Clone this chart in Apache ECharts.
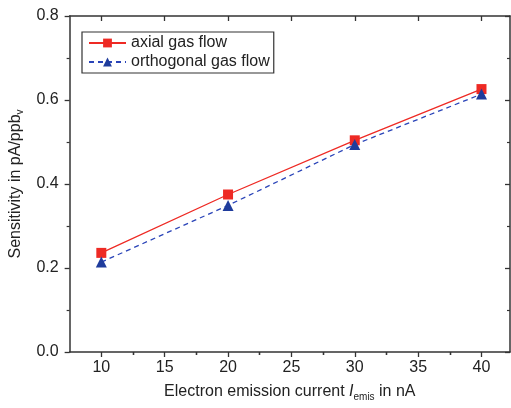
<!DOCTYPE html>
<html><head><meta charset="utf-8">
<script src="https://cdn.jsdelivr.net/npm/echarts@6/dist/echarts.min.js"></script>
<style>html,body{margin:0;padding:0;background:#fff}#c{width:511px;height:408px}</style>
</head><body><div id="c"></div>
<script>
const currents = [10, 20, 30, 40];
const axialFlow = [0.236, 0.375, 0.504, 0.626];
const orthogonalFlow = [0.214, 0.349, 0.494, 0.614];
const xMajorTicks = [10, 15, 20, 25, 30, 35, 40];
const xMinorTicks = [12.5, 17.5, 22.5, 27.5, 32.5, 37.5];
const seriesNames = ['axial gas flow', 'orthogonal gas flow'];

const font = 'Liberation Sans, Arial, sans-serif';
const axisCol = '#333';
const txtCol = '#222';
const chart = echarts.init(document.getElementById('c'));

function xAx(pos, ticks, len, inside, opts) {
  return Object.assign({
    type: 'value', position: pos, min: 7.5, max: 42.25,
    axisLine: { show: true, onZero: false, lineStyle: { color: axisCol, width: 1.5 } },
    axisTick: { show: true, inside: inside, length: len, customValues: ticks, lineStyle: { color: axisCol, width: 1.3 } },
    axisLabel: { show: false },
    splitLine: { show: false }
  }, opts || {});
}
function yAx(pos, inside, showLabel) {
  return {
    type: 'value', position: pos, min: 0, max: 0.8, interval: 0.2,
    axisLine: { show: true, onZero: false, lineStyle: { color: axisCol, width: 1.5 } },
    axisTick: { show: true, inside: inside, length: 5, lineStyle: { color: axisCol, width: 1.3 } },
    minorTick: { show: true, splitNumber: 2, length: 3, lineStyle: { color: axisCol, width: 1.2 } },
    minorSplitLine: { show: false },
    axisLabel: showLabel ? { show: true, color: txtCol, fontSize: 16, fontFamily: font, margin: 11, formatter: v => v.toFixed(1) } : { show: false },
    splitLine: { show: false }
  };
}

const yLeft = yAx('left', false, true);
yLeft.name = '{n|Sensitivity in pA/ppb}{s|v}';
yLeft.nameLocation = 'middle';
yLeft.nameGap = 40;
yLeft.nameTextStyle = { rich: {
  n: { fontSize: 16, fontFamily: font, color: txtCol },
  s: { fontSize: 10, fontFamily: font, color: txtCol, verticalAlign: 'bottom', padding: [9, 0, 0, 0] }
}};

chart.setOption({
  animation: false,
  backgroundColor: '#fff',
  grid: { left: 67.5, top: 16, width: 442.5, height: 336 },
  legend: {
    orient: 'vertical', left: 82, top: 32,
    data: seriesNames,
    borderColor: '#333', borderWidth: 1.2, backgroundColor: '#fff',
    padding: [3, 4, 3, 6], itemGap: 3, itemWidth: 37, itemHeight: 11,
    textStyle: { fontSize: 16, fontFamily: font, color: txtCol, lineHeight: 16 }
  },
  xAxis: [
    xAx('bottom', xMajorTicks, 5, false, {
      axisLabel: { show: true, customValues: xMajorTicks, color: txtCol, fontSize: 16, fontFamily: font, margin: 8 },
      name: '{n|Electron emission current }{i|I}{s|emis}{n| in nA}',
      nameLocation: 'middle', nameGap: 30,
      nameTextStyle: { rich: {
        n: { fontSize: 16, fontFamily: font, color: txtCol },
        i: { fontSize: 16, fontFamily: font, color: txtCol, fontStyle: 'italic' },
        s: { fontSize: 10, fontFamily: font, color: txtCol, verticalAlign: 'bottom', padding: [10, 0, 0, 0] }
      }}
    }),
    xAx('bottom', xMinorTicks, 3, false, { axisLine: { show: false } }),
    xAx('top', xMajorTicks, 5, true),
    xAx('top', xMinorTicks, 3, true, { axisLine: { show: false } })
  ],
  yAxis: [ yLeft, yAx('right', true, false) ],
  series: [
    {
      name: seriesNames[0], type: 'line', xAxisIndex: 0, yAxisIndex: 0,
      data: currents.map((x, i) => [x, axialFlow[i]]),
      symbol: 'rect', symbolSize: 10,
      itemStyle: { color: '#ee2a24' },
      lineStyle: { color: '#ee2a24', width: 1.3, type: 'solid' }
    },
    {
      name: seriesNames[1], type: 'line', xAxisIndex: 0, yAxisIndex: 0,
      data: currents.map((x, i) => [x, orthogonalFlow[i]]),
      symbol: 'triangle', symbolSize: 11,
      itemStyle: { color: '#1f3c9c' },
      lineStyle: { color: '#2a44b8', width: 1.3, type: [5, 4] }
    }
  ]
});
</script></body></html>
